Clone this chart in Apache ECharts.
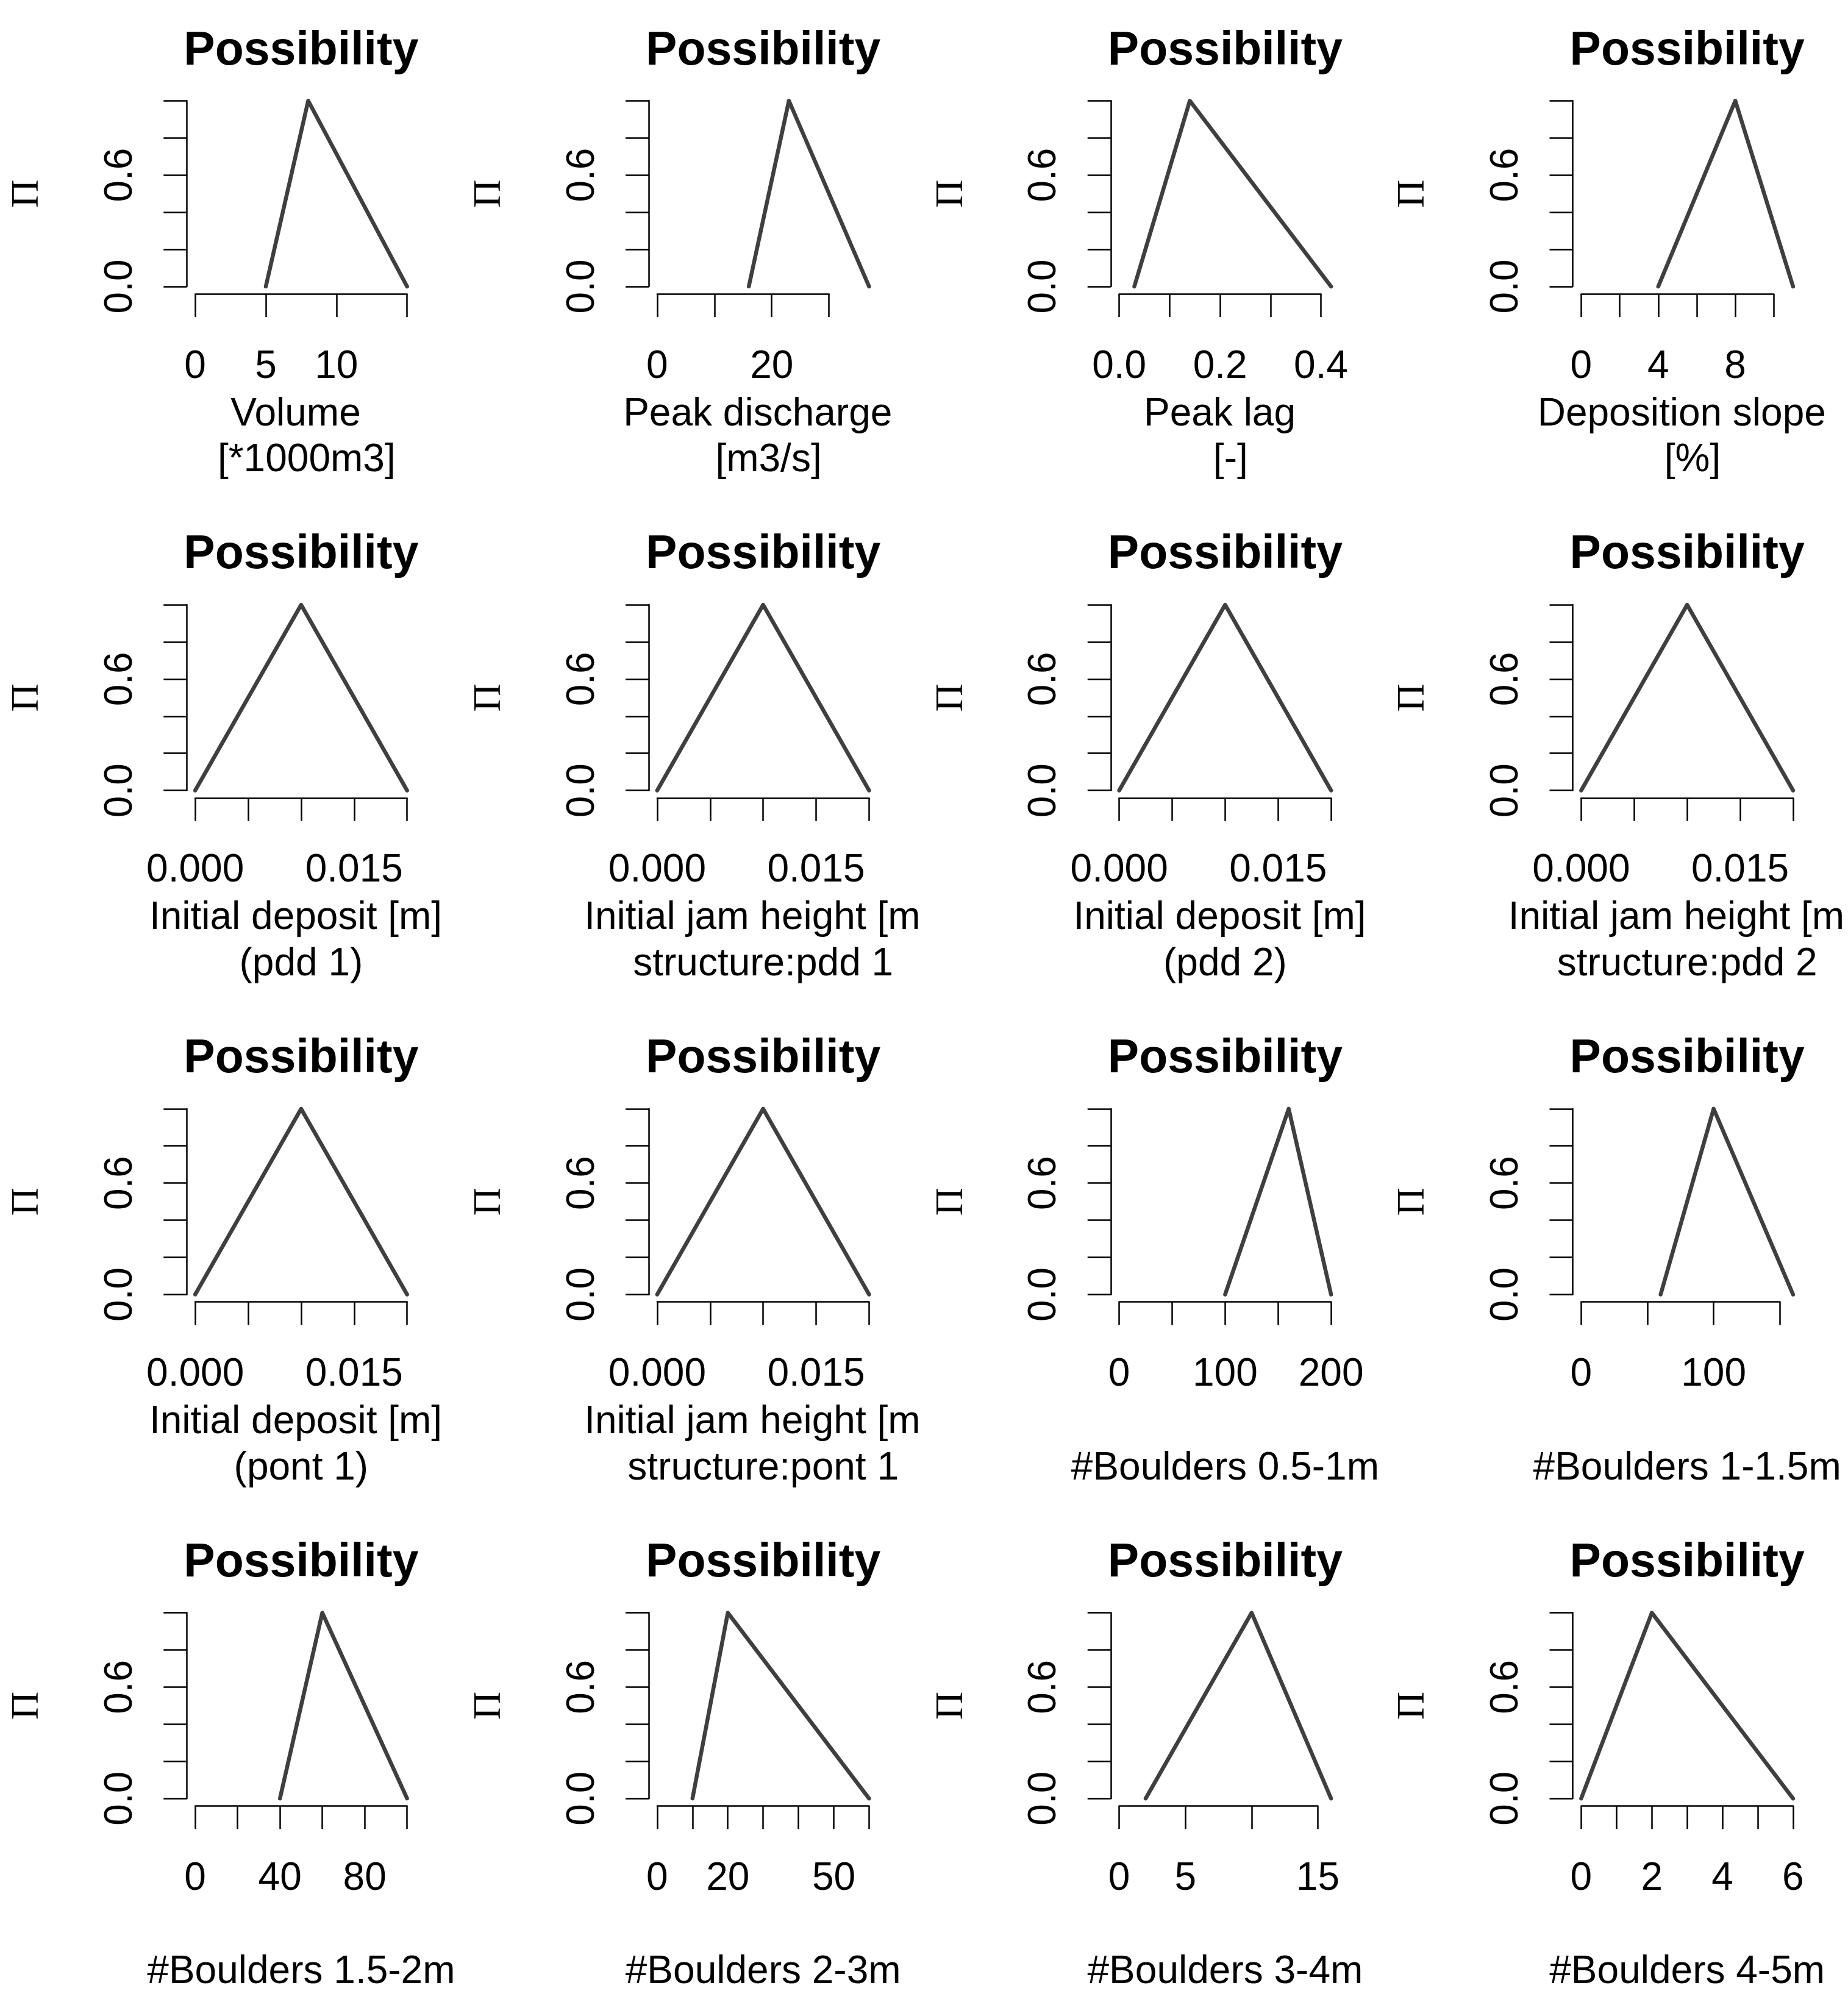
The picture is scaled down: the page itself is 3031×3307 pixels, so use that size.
<!DOCTYPE html>
<html><head><meta charset="utf-8">
<script src="https://cdn.jsdelivr.net/npm/echarts@6/dist/echarts.min.js"></script>
<style>html,body{margin:0;padding:0;background:#fff}#c{width:3031px;height:3307px}</style>
</head><body><div id="c"></div>
<script>
// ---------- data ----------
const mainTitle = "Possibility";
const yName = "\u03A0";
const xlabLine1 = [
  "Volume ", "Peak discharge ", "Peak lag ", "Deposition slope ",
  "Initial deposit [m] ", "Initial jam height [m] ", "Initial deposit [m] ", "Initial jam height [m] ",
  "Initial deposit [m] ", "Initial jam height [m] ", "", "",
  "", "", "", ""
];
const xlabLine2 = [
  " [*1000m3]", " [m3/s]", " [-]", " [%]",
  "(pdd 1)", "structure:pdd 1", "(pdd 2)", "structure:pdd 2",
  "(pont 1)", "structure:pont 1", "#Boulders 0.5-1m", "#Boulders 1-1.5m",
  "#Boulders 1.5-2m", "#Boulders 2-3m", "#Boulders 3-4m", "#Boulders 4-5m"
];
const xTicks = [
  [0,5,10,15], [0,10,20,30], [0,0.1,0.2,0.3,0.4], [0,2,4,6,8,10],
  [0,0.005,0.01,0.015,0.02], [0,0.005,0.01,0.015,0.02], [0,0.005,0.01,0.015,0.02], [0,0.005,0.01,0.015,0.02],
  [0,0.005,0.01,0.015,0.02], [0,0.005,0.01,0.015,0.02], [0,50,100,150,200], [0,50,100,150],
  [0,20,40,60,80,100], [0,10,20,30,40,50,60], [0,5,10,15], [0,1,2,3,4,5,6]
];
const xTickLabelValues = [
  [0,5,10], [0,20], [0,0.2,0.4], [0,4,8],
  [0,0.015], [0,0.015], [0,0.015], [0,0.015],
  [0,0.015], [0,0.015], [0,100,200], [0,100],
  [0,40,80], [0,20,50], [0,5,15], [0,2,4,6]
];
const xTickLabelTexts = [
  ["0","5","10"], ["0","20"], ["0.0","0.2","0.4"], ["0","4","8"],
  ["0.000","0.015"], ["0.000","0.015"], ["0.000","0.015"], ["0.000","0.015"],
  ["0.000","0.015"], ["0.000","0.015"], ["0","100","200"], ["0","100"],
  ["0","40","80"], ["0","20","50"], ["0","5","15"], ["0","2","4","6"]
];
// triangular possibility distributions: x of (start, peak, end)
const triX = [
  [5,8,15], [16,23,37], [0.03,0.14,0.42], [4,8,11],
  [0,0.01,0.02], [0,0.01,0.02], [0,0.01,0.02], [0,0.01,0.02],
  [0,0.01,0.02], [0,0.01,0.02], [100,160,200], [60,100,160],
  [40,60,100], [10,20,60], [2,10,16], [0,2,6]
];
const triY = [0, 1, 0];
const yTicks = [0,0.2,0.4,0.6,0.8,1];
const yTickLabelValues = [0, 0.6];
const yTickLabelTexts = ["0.0", "0.6"];

// ---------- layout ----------
const W = 3031, H = 3307, NC = 4, NR = 4;
const colW = W / NC, rowH = H / NR;
const PLoff = 306.25, PW = 375.3, PToff = 153.1, PH = 329;
const ext = 0.04;
const FONT = '"Liberation Sans", Arial, sans-serif';
const FS = 64, FS_MAIN = 77;
const INK = '#000';
const LINE_COL = '#3f3f3f';

const mctx = document.createElement('canvas').getContext('2d');
function textW(s, size, weight) {
  mctx.font = (weight || 'normal') + ' ' + size + 'px ' + FONT;
  return mctx.measureText(s).width;
}
function lookup(vals, texts) {
  return function (v) {
    for (let k = 0; k < vals.length; k++) if (Math.abs(vals[k] - v) < 1e-9) return texts[k];
    return '';
  };
}

const grids = [], xAxes = [], yAxes = [], series = [], titles = [];
for (let i = 0; i < 16; i++) {
  const col = i % NC, row = Math.floor(i / NC);
  const x0 = col * colW, y0 = row * rowH;
  const PL = x0 + PLoff, PT = y0 + PToff;
  const lo = 0, hi = Math.max.apply(null, triX[i]);
  const span = hi - lo;
  const ppu = PW / (span * (1 + 2 * ext));
  const ticks = xTicks[i];
  const lastTick = ticks[ticks.length - 1];
  const xOff = PH * ext / (1 + 2 * ext);
  const yOff = ext * span * ppu;
  const gA = grids.length;
  // axis grid: spans exactly the tick range, axes offset outward like R
  grids.push({
    left: PL + yOff, width: (lastTick - lo) * ppu,
    top: PT + xOff, height: PH / (1 + 2 * ext),
    containLabel: false, outerBoundsMode: 'none'
  });
  // data grid: whole plot region, range extended by 4% like R
  grids.push({
    left: PL, width: PW, top: PT, height: PH,
    containLabel: false, outerBoundsMode: 'none'
  });
  xAxes.push({
    gridIndex: gA, type: 'value', min: 0, max: lastTick, interval: ticks[1] - ticks[0],
    offset: xOff,
    axisLine: { show: true, onZero: false, lineStyle: { color: INK, width: 2.5 } },
    axisTick: { show: true, inside: false, length: 38, customValues: ticks, lineStyle: { color: INK, width: 2.5 } },
    axisLabel: { show: true, customValues: xTickLabelValues[i], formatter: lookup(xTickLabelValues[i], xTickLabelTexts[i]),
      margin: 88, fontSize: FS, fontFamily: FONT, color: INK },
    splitLine: { show: false }
  });
  xAxes.push({
    gridIndex: gA + 1, type: 'value', show: false,
    min: lo - ext * span, max: hi + ext * span,
    splitLine: { show: false }
  });
  yAxes.push({
    gridIndex: gA, type: 'value', min: 0, max: 1, interval: 0.2,
    offset: yOff,
    axisLine: { show: true, onZero: false, lineStyle: { color: INK, width: 2.5 } },
    axisTick: { show: true, inside: false, length: 38, customValues: yTicks, lineStyle: { color: INK, width: 2.5 } },
    axisLabel: { show: true, customValues: yTickLabelValues, formatter: lookup(yTickLabelValues, yTickLabelTexts),
      rotate: 90, margin: 76, fontSize: FS, fontFamily: FONT, color: INK },
    splitLine: { show: false },
    name: yName, nameLocation: 'middle', nameRotate: 90, nameGap: 229,
    nameTextStyle: { fontFamily: '"Liberation Serif", "DejaVu Serif", serif', fontSize: FS, color: INK }
  });
  yAxes.push({
    gridIndex: gA + 1, type: 'value', show: false,
    min: -ext, max: 1 + ext,
    splitLine: { show: false }
  });
  series.push({
    type: 'line', xAxisIndex: gA + 1, yAxisIndex: gA + 1,
    data: triX[i].map((x, j) => [x, triY[j]]),
    symbol: 'none', showSymbol: false, clip: false, silent: true, animation: false,
    lineStyle: { color: LINE_COL, width: 6.5, cap: 'round', join: 'round' }
  });
  const cx = PL + PW / 2;
  titles.push({
    text: mainTitle, left: cx - textW(mainTitle, FS_MAIN, 'bold') / 2, top: y0 + 46, textAlign: 'left', padding: 0,
    textStyle: { fontSize: FS_MAIN, fontWeight: 'bold', fontFamily: FONT, color: INK }
  });
  const colRight = x0 + colW;
  [[xlabLine1[i], 648], [xlabLine2[i], 723.5]].forEach(function (pair) {
    const s = pair[0];
    if (!s) return;
    const w = textW(s, FS);
    const left = cx - w / 2;
    const ts = { fontSize: FS, fontWeight: 'normal', fontFamily: FONT, color: INK };
    if (left + w > colRight) {
      ts.width = colRight - left; ts.overflow = 'truncate'; ts.ellipsis = '';
    }
    titles.push({ text: s, left: left, top: y0 + pair[1], textAlign: 'left', padding: 0, textStyle: ts });
  });
}

const chart = echarts.init(document.getElementById('c'), null, { renderer: 'canvas', width: W, height: H });
chart.setOption({
  backgroundColor: '#ffffff',
  animation: false,
  title: titles,
  grid: grids,
  xAxis: xAxes,
  yAxis: yAxes,
  series: series
});
</script>
</body></html>
